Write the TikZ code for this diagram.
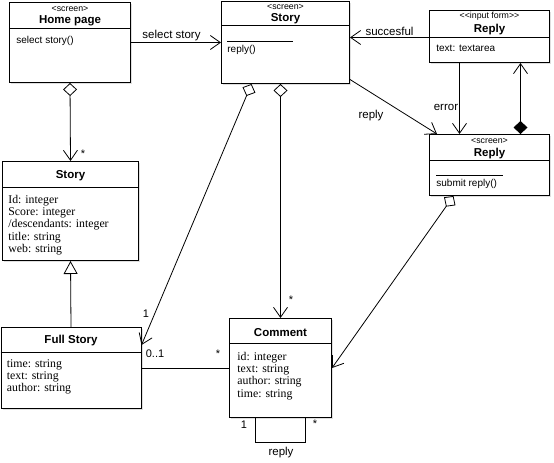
\documentclass[tikz,border=0pt]{standalone}
\usepackage{fontspec}
\setmainfont{Liberation Serif}
\setsansfont{Liberation Sans}
\usetikzlibrary{arrows.meta,positioning,shadows}

\begin{document}
\begin{tikzpicture}[x=1pt,y=-1pt,line width=0.8pt,
	cls/.style={draw,line width=1pt,fill=white,anchor=north west,inner sep=0pt,
		drop shadow={opacity=0.25,shadow xshift=1.8pt,shadow yshift=-1.8pt}},
	stereo/.style={font=\sffamily\fontsize{8.8}{9}\selectfont,inner sep=0pt},
	cname/.style={font=\sffamily\bfseries\fontsize{11.5}{13}\selectfont,inner sep=0pt},
	ops/.style={font=\sffamily\fontsize{10}{11}\selectfont,inner sep=0pt,anchor=west},
	attr/.style={font=\rmfamily\fontsize{11.8}{12.2}\selectfont,inner sep=0pt,anchor=north west,align=left},
	lbl/.style={font=\sffamily\fontsize{11.5}{13}\selectfont,inner sep=1pt},
	mult/.style={font=\sffamily\fontsize{11}{12}\selectfont,inner sep=0pt},
	nav/.style={-{Straight Barb[length=10pt,width=14pt]}},
	agg/.style={{Diamond[open,length=13pt,width=14pt]}-{Straight Barb[length=10pt,width=14pt]}},
	comp/.style={{Diamond[length=13pt,width=14pt]}-{Straight Barb[length=10pt,width=14pt]}},
	gen/.style={-{Triangle[open,length=13pt,width=14pt]}}]

	\useasboundingbox (0,0) rectangle (554,463);

	% classes
	\node[cls,minimum width=121pt,minimum height=80pt] (home) at (9,2) {};
	\node[cls,minimum width=128pt,minimum height=82pt] (storys) at (221,1) {};
	\node[cls,minimum width=120pt,minimum height=52pt] (reply) at (429,10) {};
	\node[cls,minimum width=120pt,minimum height=61pt] (replys) at (429,134) {};
	\node[cls,minimum width=136pt,minimum height=99pt] (storyc) at (2,161) {};
	\node[cls,minimum width=140pt,minimum height=81pt] (fulls) at (0.5,327) {};
	\node[cls,minimum width=102pt,minimum height=99pt] (comment) at (229,318) {};

	% home page
	\node[stereo] (home-s) at ([yshift=-7pt]home.north) {<screen>};
	\node[cname] (home-n) at ([yshift=-19pt]home.north) {Home page};
	\draw ([yshift=-26pt]home.north west) -- ([yshift=-26pt]home.north east);
	\node[ops] (home-o) at ([xshift=7pt,yshift=-39pt]home.north west) {select story()};

	% story screen
	\node[stereo] (storys-s) at ([yshift=-6pt]storys.north) {<screen>};
	\node[cname] (storys-n) at ([yshift=-18pt]storys.north) {Story};
	\draw ([yshift=-24pt]storys.north west) -- ([yshift=-24pt]storys.north east);
	\draw ([xshift=6pt,yshift=-40pt]storys.north west) -- ++(66,0);
	\node[ops] (storys-o) at ([xshift=6pt,yshift=-49pt]storys.north west) {reply()};

	% reply input form
	\node[stereo] (reply-s) at ([yshift=-6pt]reply.north) {<{}<input form>{}>};
	\node[cname] (reply-n) at ([yshift=-20pt]reply.north) {Reply};
	\draw ([yshift=-27pt]reply.north west) -- ([yshift=-27pt]reply.north east);
	\node[ops] (reply-o) at ([xshift=7pt,yshift=-38pt]reply.north west) {text: textarea};

	% reply screen
	\node[stereo] (replys-s) at ([yshift=-7pt]replys.north) {<screen>};
	\node[cname] (replys-n) at ([yshift=-20pt]replys.north) {Reply};
	\draw ([yshift=-26pt]replys.north west) -- ([yshift=-26pt]replys.north east);
	\draw ([xshift=7pt,yshift=-41.5pt]replys.north west) -- ++(67,0);
	\node[ops] (replys-o) at ([xshift=7pt,yshift=-49.5pt]replys.north west) {submit reply()};

	% story
	\node[cname] (storyc-n) at ([yshift=-15pt]storyc.north) {Story};
	\draw ([yshift=-26pt]storyc.north west) -- ([yshift=-26pt]storyc.north east);
	\node[attr] (storyc-a) at ([xshift=6pt,yshift=-34pt]storyc.north west)
		{Id: integer\\Score: integer\\/descendants: integer\\title: string\\web: string};

	% full story
	\node[cname] (fulls-n) at ([yshift=-13.5pt]fulls.north) {Full Story};
	\draw ([yshift=-25pt]fulls.north west) -- ([yshift=-25pt]fulls.north east);
	\node[attr] (fulls-a) at ([xshift=6pt,yshift=-32pt]fulls.north west)
		{time: string\\text: string\\author: string};

	% comment
	\node[cname] (comment-n) at ([yshift=-14.5pt]comment.north) {Comment};
	\draw ([yshift=-25pt]comment.north west) -- ([yshift=-25pt]comment.north east);
	\node[attr] (comment-a) at ([xshift=8pt,yshift=-34pt]comment.north west)
		{id: integer\\text: string\\author: string\\time: string};

	% connectors
	\draw[agg] (home.south) -- (storyc.north);
	\draw[nav] (home) -- node[lbl,above,pos=0.45] (l-sel) {select story} (storys);
	\draw[nav] ([yshift=-1pt]reply.west) -- node[lbl,above] (l-suc) {succesful} ([yshift=5pt]storys.east);
	\draw[nav] ([yshift=-37pt]storys.east) -- ([xshift=8pt]replys.north west);
	\draw[nav] ([xshift=-30pt]reply.south) -- node[lbl,left,pos=0.62] (l-err) {error} ([xshift=-30pt]replys.north);
	\draw[comp] ([xshift=31pt]replys.north) -- ([xshift=31pt]reply.south);
	\draw[gen] (fulls.north) -- (storyc.south);
	\draw[agg] ([xshift=-34pt]storys.south) -- ([yshift=-18pt]fulls.north east);
	\draw[agg] (comment.north |- storys.south) -- (comment.north);
	\draw (fulls.east) -- (comment.west);
	\draw[agg] ([xshift=-36pt]replys.south) -- (comment.east);
	\draw ([xshift=-25pt]comment.south) -- ++(0,24) -| ([xshift=25pt]comment.south);

	% labels
	\node[lbl] (l-rep) at (371,116) {reply};
	\node[mult] (m-home) at (83,154) {*};
	\node[mult] (m-fs1) at (146,314) {1};
	\node[mult] (m-fs2) at (155,354) {0..1};
	\node[mult] (m-com) at (291,300) {*};
	\node[mult] (m-fc) at (218,354) {*};
	\node[mult] (m-l1) at (244,425) {1};
	\node[mult] (m-l2) at (315,424) {*};
	\node[lbl] (l-loop) at (281,453) {reply};
\end{tikzpicture}
\end{document}
